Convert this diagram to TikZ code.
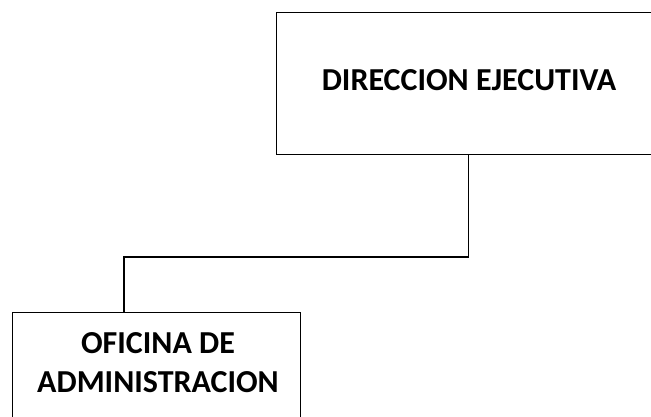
\documentclass[tikz,border=0pt]{standalone}
\usepackage{fontspec}
\setmainfont{Carlito}
\usetikzlibrary{positioning}

\begin{document}
\begin{tikzpicture}[x=0.75pt,y=-0.75pt,
 unit/.style={draw=black,line width=1.1pt,fill=white,inner sep=0pt},
 unitname/.style={font=\bfseries\fontsize{24}{29.25}\selectfont,align=center,inner sep=0pt}]
\useasboundingbox (0,0) rectangle (651,417);
\clip (0,0) rectangle (651,417);
\node[unit,anchor=north west,minimum width=288pt,minimum height=106.5pt] (dir) at (276,12) {};
\node[unitname] (dirname) at (469,80) {DIRECCION EJECUTIVA};
\node[unit,anchor=north west,minimum width=216pt,minimum height=88.5pt] (admin) at (12,312) {};
\node[unitname] (adminname) at (158,363) {OFICINA DE\\ADMINISTRACION};
\coordinate (split) at (124,257);
\draw[line width=1.1pt] (dir.south) |- (split) -- (split |- admin.north);
\end{tikzpicture}
\end{document}
